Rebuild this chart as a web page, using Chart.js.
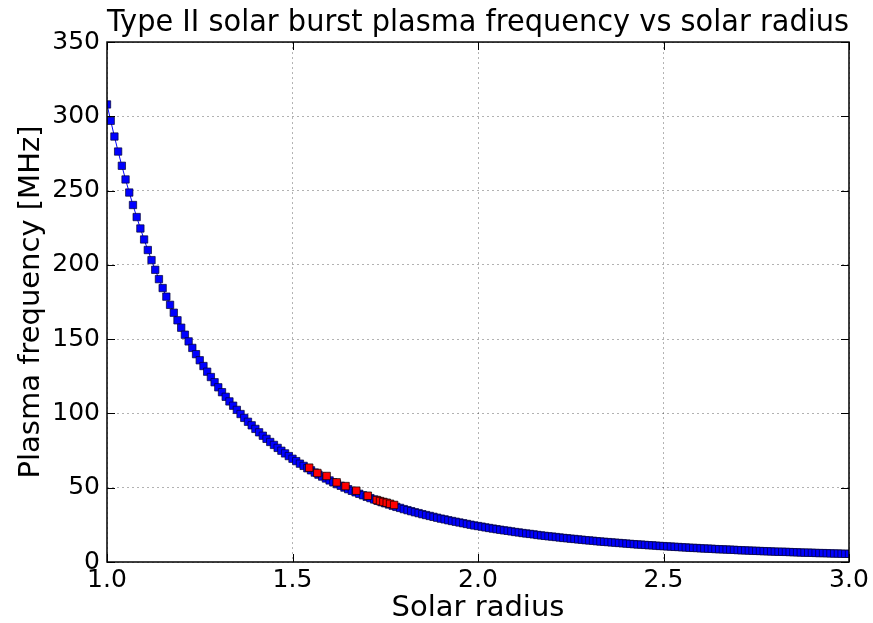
<!DOCTYPE html>
<html>
<head>
<meta charset="utf-8">
<script src="https://cdn.jsdelivr.net/npm/chart.js@4/dist/chart.umd.min.js"></script>
<style>
html,body{margin:0;padding:0;background:#fff;}
#wrap{width:873px;height:623px;}
</style>
</head>
<body>
<div id="wrap"><canvas id="c" width="873" height="623"></canvas></div>
<script>
// Solar radius (x) for the blue model curve
const radius = [
1.00,1.01,1.02,1.03,1.04,1.05,1.06,1.07,1.08,1.09,
1.10,1.11,1.12,1.13,1.14,1.15,1.16,1.17,1.18,1.19,
1.20,1.21,1.22,1.23,1.24,1.25,1.26,1.27,1.28,1.29,
1.30,1.31,1.32,1.33,1.34,1.35,1.36,1.37,1.38,1.39,
1.40,1.41,1.42,1.43,1.44,1.45,1.46,1.47,1.48,1.49,
1.50,1.51,1.52,1.53,1.54,1.55,1.56,1.57,1.58,1.59,
1.60,1.61,1.62,1.63,1.64,1.65,1.66,1.67,1.68,1.69,
1.70,1.71,1.72,1.73,1.74,1.75,1.76,1.77,1.78,1.79,
1.80,1.81,1.82,1.83,1.84,1.85,1.86,1.87,1.88,1.89,
1.90,1.91,1.92,1.93,1.94,1.95,1.96,1.97,1.98,1.99,
2.00,2.01,2.02,2.03,2.04,2.05,2.06,2.07,2.08,2.09,
2.10,2.11,2.12,2.13,2.14,2.15,2.16,2.17,2.18,2.19,
2.20,2.21,2.22,2.23,2.24,2.25,2.26,2.27,2.28,2.29,
2.30,2.31,2.32,2.33,2.34,2.35,2.36,2.37,2.38,2.39,
2.40,2.41,2.42,2.43,2.44,2.45,2.46,2.47,2.48,2.49,
2.50,2.51,2.52,2.53,2.54,2.55,2.56,2.57,2.58,2.59,
2.60,2.61,2.62,2.63,2.64,2.65,2.66,2.67,2.68,2.69,
2.70,2.71,2.72,2.73,2.74,2.75,2.76,2.77,2.78,2.79,
2.80,2.81,2.82,2.83,2.84,2.85,2.86,2.87,2.88,2.89,
2.90,2.91,2.92,2.93,2.94,2.95,2.96,2.97,2.98,2.99,
3.00
];
// Plasma frequency [MHz] for the blue model curve
const frequency = [
308.0,297.0,286.4,276.3,266.7,257.5,248.7,240.3,232.2,224.5,
217.1,210.0,203.2,196.7,190.4,184.4,178.6,173.1,167.8,162.7,
157.7,153.0,148.5,144.1,139.9,135.8,131.9,128.1,124.5,121.0,
117.6,114.3,111.2,108.1,105.2,102.4,99.6,97.0,94.4,92.0,
89.6,87.3,85.0,82.9,80.8,78.8,76.8,74.9,73.1,71.3,
69.5,67.9,66.2,64.7,63.1,61.7,60.2,58.8,57.5,56.2,
54.9,53.6,52.4,51.3,50.1,49.0,47.9,46.9,45.9,44.9,
43.9,43.0,42.1,41.2,40.3,39.5,38.7,37.9,37.1,36.4,
35.6,34.9,34.2,33.5,32.9,32.2,31.6,31.0,30.4,29.8,
29.2,28.7,28.1,27.6,27.1,26.6,26.1,25.6,25.1,24.6,
24.2,23.8,23.3,22.9,22.5,22.1,21.7,21.3,21.0,20.6,
20.2,19.9,19.5,19.2,18.9,18.6,18.2,17.9,17.6,17.3,
17.1,16.8,16.5,16.2,16.0,15.7,15.5,15.2,15.0,14.7,
14.5,14.3,14.0,13.8,13.6,13.4,13.2,13.0,12.8,12.6,
12.4,12.2,12.0,11.8,11.7,11.5,11.3,11.2,11.0,10.8,
10.7,10.5,10.4,10.2,10.1,9.9,9.8,9.6,9.5,9.4,
9.2,9.1,9.0,8.9,8.7,8.6,8.5,8.4,8.3,8.2,
8.0,7.9,7.8,7.7,7.6,7.5,7.4,7.3,7.2,7.1,
7.0,6.9,6.9,6.8,6.7,6.6,6.5,6.4,6.3,6.3,
6.2,6.1,6.0,6.0,5.9,5.8,5.7,5.7,5.6,5.5,
5.5
];
// Observed burst points (red)
const burstRadius = [1.545,1.567,1.592,1.619,1.643,1.672,1.703,1.727,1.736,1.745,1.754,1.763,1.774];
const burstFrequency = [63.5,59.9,57.9,53.6,51.1,48.0,44.6,41.7,41.0,40.4,39.9,39.2,38.4];

const xTicks = [1.0,1.5,2.0,2.5,3.0];
const yTicks = [0,50,100,150,200,250,300,350];

const titleText = 'Type II solar burst plasma frequency vs solar radius';
const xLabel = 'Solar radius';
const yLabel = 'Plasma frequency [MHz]';

const FONT = 'DejaVu Sans';

const frame = {
  id: 'frame',
  afterDatasetsDraw(chart) {
    const {ctx, chartArea: a, scales: {x, y}} = chart;
    ctx.save();
    ctx.strokeStyle = '#000';
    ctx.lineWidth = 1;
    xTicks.forEach(v => {
      const px = Math.round(x.getPixelForValue(v)) + 0.5;
      ctx.beginPath();
      ctx.moveTo(px, a.bottom); ctx.lineTo(px, a.bottom - 8);
      ctx.moveTo(px, a.top); ctx.lineTo(px, a.top + 8);
      ctx.stroke();
    });
    yTicks.forEach(v => {
      const py = Math.round(y.getPixelForValue(v)) + 0.5;
      ctx.beginPath();
      ctx.moveTo(a.left, py); ctx.lineTo(a.left + 8, py);
      ctx.moveTo(a.right, py); ctx.lineTo(a.right - 8, py);
      ctx.stroke();
    });
    ctx.lineWidth = 1.5;
    ctx.strokeRect(a.left, a.top, a.right - a.left, a.bottom - a.top);
    ctx.restore();
  }
};

const blueData = radius.map((r, i) => ({x: r, y: frequency[i]}));
const redData = burstRadius.map((r, i) => ({x: r, y: burstFrequency[i]}));

new Chart(document.getElementById('c'), {
  type: 'scatter',
  data: {
    datasets: [
      {
        label: 'Burst',
        data: redData,
        order: 0,
        showLine: false,
        pointStyle: 'rect',
        pointRadius: 5.3,
        pointBackgroundColor: '#ff0000',
        pointBorderColor: '#000000',
        pointBorderWidth: 0.7,
        clip: 0
      },
      {
        label: 'Model',
        data: blueData,
        order: 1,
        showLine: true,
        borderColor: '#0000ff',
        borderWidth: 1,
        pointStyle: 'rect',
        pointRadius: 5.2,
        pointBackgroundColor: '#0000ff',
        pointBorderColor: '#000033',
        pointBorderWidth: 0.7,
        clip: 0
      }
    ]
  },
  options: {
    responsive: false,
    animation: false,
    devicePixelRatio: 1,
    layout: {padding: {left: 0, right: 24, top: 0, bottom: 0}},
    plugins: {
      legend: {display: false},
      tooltip: {enabled: false},
      title: {
        display: true,
        text: titleText,
        fullSize: false,
        color: '#000',
        font: {family: FONT, size: 29.7, weight: 'normal', lineHeight: 1.2},
        padding: {top: 5, bottom: 1.4}
      }
    },
    scales: {
      x: {
        type: 'linear',
        min: 1.0,
        max: 3.0,
        afterBuildTicks: s => { s.ticks = xTicks.map(v => ({value: v})); },
        afterFit: s => { s.height = 61; },
        ticks: {
          callback: v => Number(v).toFixed(1),
          color: '#000',
          font: {family: FONT, size: 25},
          padding: 3,
          maxRotation: 0,
          autoSkip: false
        },
        grid: {color: 'rgba(0,0,0,0.3)', lineWidth: 1, drawTicks: false, tickLength: 0},
        border: {display: false, dash: [2, 3]},
        title: {
          display: true, text: xLabel, color: '#000',
          font: {family: FONT, size: 29, lineHeight: 1.0},
          padding: {top: 0, bottom: 0}
        }
      },
      y: {
        type: 'linear',
        min: 0,
        max: 350,
        afterBuildTicks: s => { s.ticks = yTicks.map(v => ({value: v})); },
        afterFit: s => { s.width = 107; },
        ticks: {
          callback: v => String(v),
          color: '#000',
          font: {family: FONT, size: 25},
          padding: 7,
          autoSkip: false
        },
        grid: {color: 'rgba(0,0,0,0.3)', lineWidth: 1, drawTicks: false, tickLength: 0},
        border: {display: false, dash: [2, 3]},
        title: {
          display: true, text: yLabel, color: '#000',
          font: {family: FONT, size: 29, lineHeight: 1.2},
          padding: {top: 14, bottom: 0}
        }
      }
    }
  },
  plugins: [frame]
});
</script>
</body>
</html>
